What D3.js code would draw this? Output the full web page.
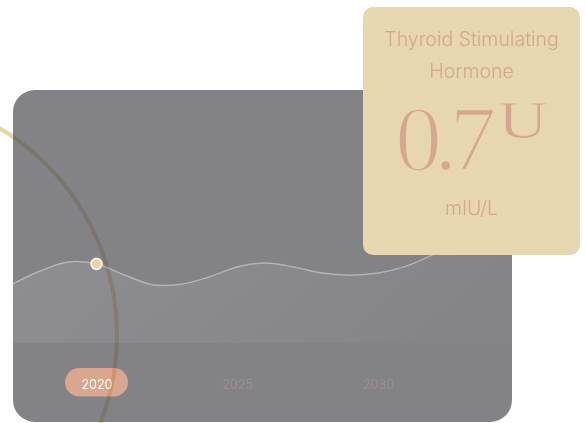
<!DOCTYPE html>
<html>
<head>
<meta charset="utf-8">
<script src="https://cdn.jsdelivr.net/npm/d3@7"></script>
<style>
  html, body { margin: 0; padding: 0; background: #ffffff; }
  svg { display: block; }
</style>
</head>
<body>
<svg id="chart" width="585" height="423"></svg>
<script>
// ---- data ----
const years = [2017, 2018, 2019, 2020, 2021, 2022, 2023, 2024, 2025, 2026, 2027, 2028, 2029, 2030, 2031, 2032, 2033, 2034, 2035];
const tshValues = [0.52, 0.637, 0.717, 0.70, 0.602, 0.515, 0.52, 0.584, 0.673, 0.708, 0.673, 0.619, 0.60, 0.619, 0.681, 0.788, 0.91, 1.04, 1.18];
const tickYears = [2020, 2025, 2030];
const selectedYear = 2020;
const selectedValue = 0.7;
const titleLines = ["Thyroid Stimulating", "Hormone"];
const bigValue = "0.7";
const bigSuffix = "U";
const unitLabel = "mIU/L";

const svg = d3.select("#chart");
const defs = svg.append("defs");

const card = { x: 13, y: 90, w: 499, h: 332, r: 22 };
const x = d3.scaleLinear().domain([2020, 2030]).range([96.5, 378]);
const y = d3.scaleLinear().domain([0, 1]).range([343, 230]);

const clip = defs.append("clipPath").attr("id", "cardClip");
clip.append("rect").attr("x", card.x).attr("y", card.y).attr("width", card.w).attr("height", card.h).attr("rx", card.r);

const grad = defs.append("linearGradient").attr("id", "areaGrad")
  .attr("x1", "0").attr("y1", "0").attr("x2", "1").attr("y2", "0.3");
grad.append("stop").attr("offset", "0").attr("stop-color", "#ffffff").attr("stop-opacity", 0.10);
grad.append("stop").attr("offset", "1").attr("stop-color", "#ffffff").attr("stop-opacity", 0.02);

const ring = { cx: -124, cy: 335, r: 241 };
const ringColor = "#e8d5a6";

// ring outside the card
svg.append("circle").attr("cx", ring.cx).attr("cy", ring.cy).attr("r", ring.r)
  .attr("fill", "none").attr("stroke", ringColor).attr("stroke-width", 4);

// gray card
svg.append("rect").attr("x", card.x).attr("y", card.y).attr("width", card.w).attr("height", card.h)
  .attr("rx", card.r).attr("fill", "#838287");

const data = years.map((yr, i) => ({ yr, v: tshValues[i] }));
const gChart = svg.append("g").attr("clip-path", "url(#cardClip)");

const curve = d3.curveCatmullRom.alpha(0.5);
const area = d3.area().x(d => x(d.yr)).y0(y(0)).y1(d => y(d.v)).curve(curve);
const line = d3.line().x(d => x(d.yr)).y(d => y(d.v)).curve(curve);

gChart.append("path").datum(data).attr("d", area).attr("fill", "url(#areaGrad)");
gChart.append("path").datum(data).attr("d", line).attr("fill", "none")
  .attr("stroke", "rgba(235,235,235,0.45)").attr("stroke-width", 1.4);

// x axis labels
const pillW = 63, pillH = 28.5;
svg.append("rect")
  .attr("x", x(selectedYear) - pillW / 2).attr("y", 368)
  .attr("width", pillW).attr("height", pillH).attr("rx", pillH / 2)
  .attr("fill", "#d9a68f");

const axis = d3.axisBottom(x).tickValues(tickYears).tickSize(0).tickFormat(d3.format("d"));
const gAxis = svg.append("g").attr("transform", "translate(0,388.5)").call(axis);
gAxis.select(".domain").remove();
gAxis.selectAll("text")
  .attr("y", 0).attr("dy", 0)
  .attr("font-family", "Inter, 'Noto Sans', sans-serif")
  .attr("font-size", 12.5)
  .attr("fill", d => d === selectedYear ? "#ffffff" : "#9b8d8c");

// ring inside the card (multiply blend)
svg.append("circle").attr("cx", ring.cx).attr("cy", ring.cy).attr("r", ring.r)
  .attr("clip-path", "url(#cardClip)")
  .attr("fill", "none").attr("stroke", ringColor).attr("stroke-width", 4)
  .style("mix-blend-mode", "multiply").attr("opacity", 0.6);

// selected point
svg.append("circle").attr("cx", x(selectedYear)).attr("cy", y(selectedValue)).attr("r", 6.3)
  .attr("fill", "#f7f1e2");
svg.append("circle").attr("cx", x(selectedYear)).attr("cy", y(selectedValue)).attr("r", 4.3)
  .attr("fill", "#e7d3a3");

// tan info card
const info = { x: 363, y: 7, w: 217, h: 248, r: 10 };
const cardBg = "#e6d7b0";
svg.append("rect").attr("x", info.x).attr("y", info.y).attr("width", info.w).attr("height", info.h)
  .attr("rx", info.r).attr("fill", cardBg);
const cx = info.x + info.w / 2;
const txtColor = "#d6a68f";
svg.append("text").attr("x", cx).attr("y", 45.5).attr("text-anchor", "middle")
  .attr("font-family", "Inter, 'Noto Sans', sans-serif").attr("font-size", 19.5).attr("font-weight", 300)
  .attr("fill", txtColor).text(titleLines[0]);
svg.append("text").attr("x", cx).attr("y", 77.5).attr("text-anchor", "middle")
  .attr("font-family", "Inter, 'Noto Sans', sans-serif").attr("font-size", 19.5).attr("font-weight", 300)
  .attr("fill", txtColor).text(titleLines[1]);
svg.append("text").attr("x", 395).attr("y", 170)
  .attr("font-family", "'Liberation Serif', serif").attr("font-size", 94)
  .attr("letter-spacing", -8)
  .attr("fill", txtColor).attr("stroke", cardBg).attr("stroke-width", 2.4)
  .text(bigValue);
svg.append("text").attr("transform", "translate(498,138) scale(1.3,1)")
  .attr("font-family", "'Liberation Serif', serif").attr("font-size", 53)
  .attr("fill", txtColor).attr("stroke", cardBg).attr("stroke-width", 0.8)
  .text(bigSuffix);
svg.append("text").attr("x", cx).attr("y", 215).attr("text-anchor", "middle")
  .attr("font-family", "Inter, 'Noto Sans', sans-serif").attr("font-size", 19.5).attr("font-weight", 300)
  .attr("fill", txtColor).text(unitLabel);
</script>
</body>
</html>
